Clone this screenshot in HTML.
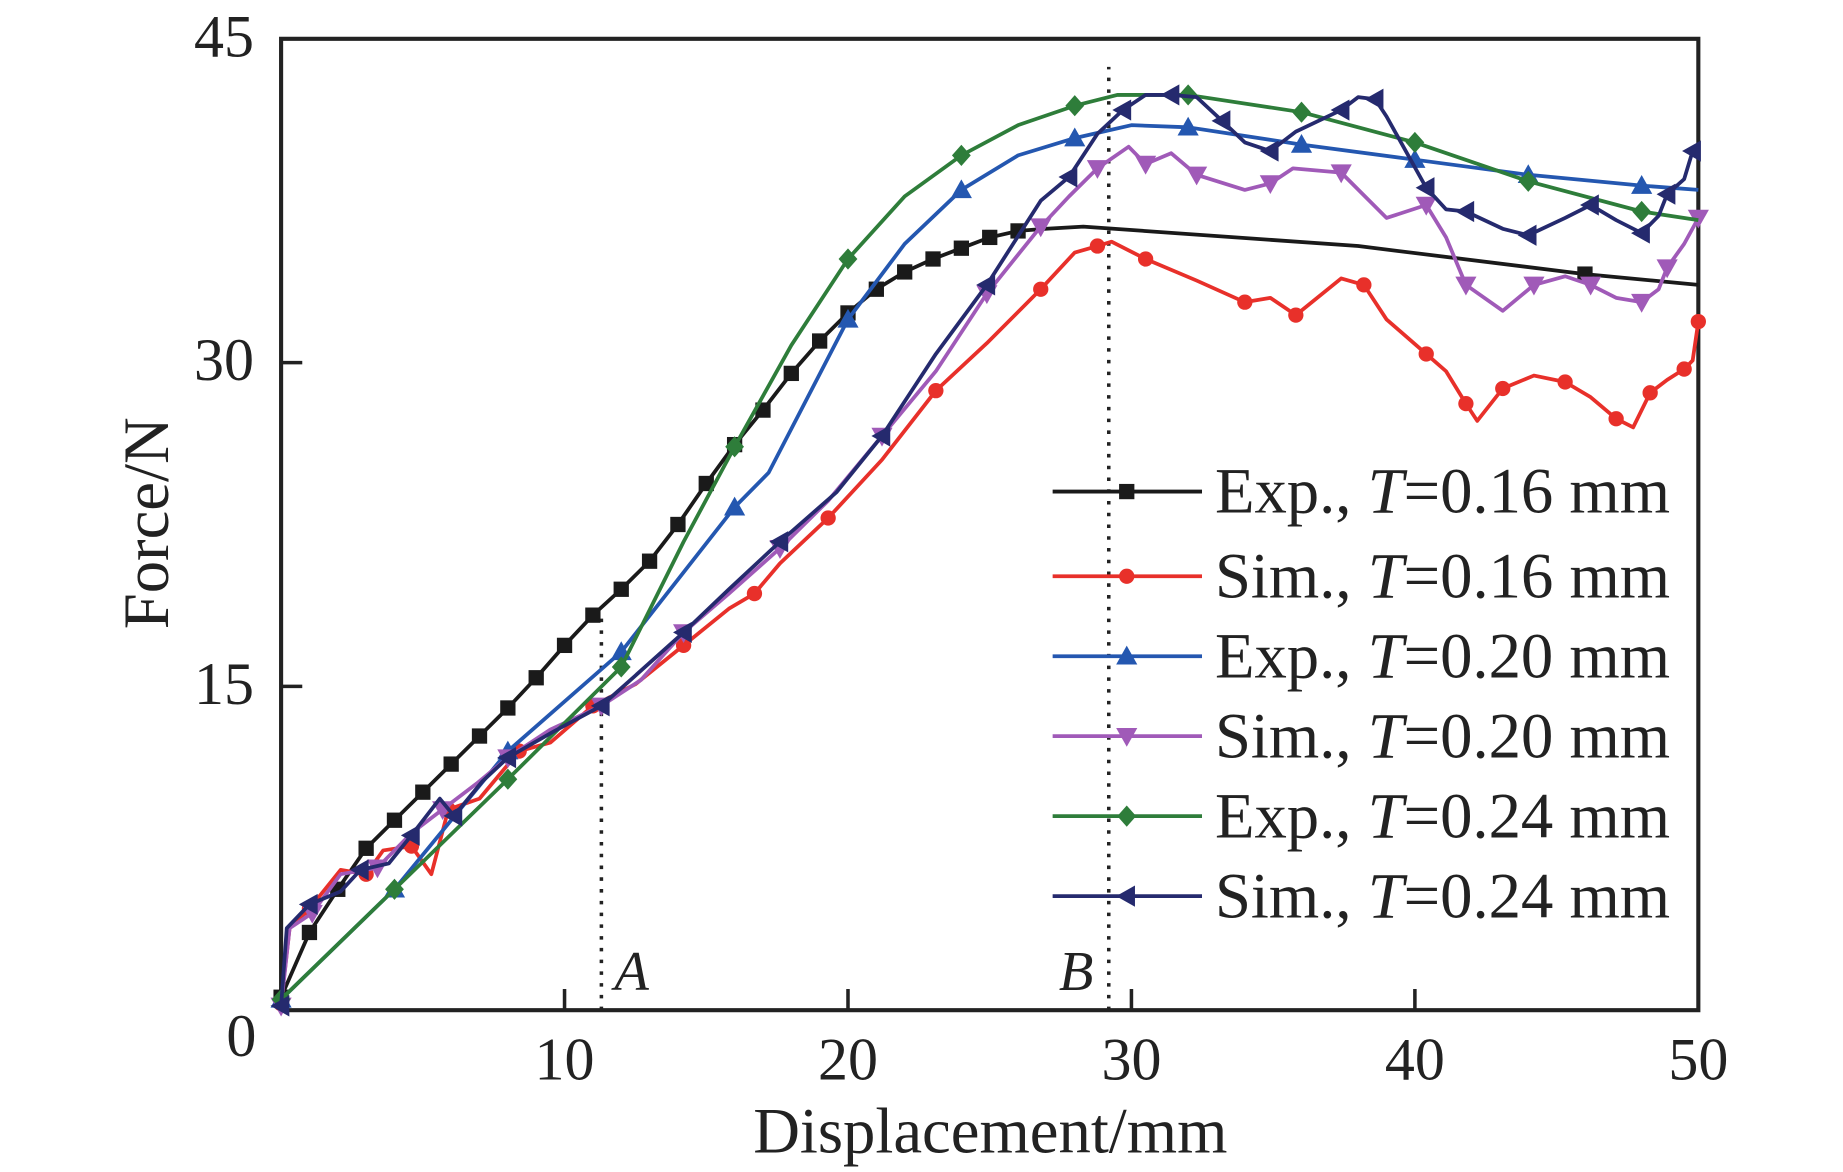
<!DOCTYPE html>
<html><head><meta charset="utf-8"><style>
html,body{margin:0;padding:0;background:#fff;}
svg{display:block;font-family:"Liberation Serif",serif;}
</style></head><body>
<svg id="chart" width="1843" height="1172" viewBox="0 0 1567 996.6" preserveAspectRatio="none" xmlns="http://www.w3.org/2000/svg">
<g id="plot"></g>
</svg>
<script>
const xTicks=[0,10,20,30,40,50];
const yTicks=[0,15,30,45];
const exp16X=[0,1,2,3,4,5,6,7,8,9,10,11,12,13,14,15,16,17,18,19,20,21,22,23,24,25,26,27,28.3,38,46,50];
const exp16Y=[0.6,3.6,5.6,7.5,8.8,10.1,11.4,12.7,14.0,15.4,16.9,18.3,19.5,20.8,22.5,24.4,26.2,27.8,29.5,31.0,32.3,33.4,34.2,34.8,35.3,35.8,36.1,36.2,36.3,35.4,34.1,33.6];
const sim16X=[0,0.3,1,2.1,3,3.6,4.6,5.3,5.9,7,8.4,9.5,11,12.5,14.2,15.8,16.7,17.6,19.3,21.2,23.1,24.9,26.8,28,28.8,29.3,30.5,32.3,34,34.9,35.8,37.4,38.2,39,40.4,41.1,41.8,42.2,43.1,44.2,45.3,46.2,47.1,47.7,48.3,48.9,49.5,49.8,50];
const sim16Y=[0.3,3.8,4.7,6.5,6.3,7.4,7.6,6.3,9.3,9.8,12,12.4,14.1,15.1,16.9,18.6,19.3,20.7,22.8,25.5,28.7,30.9,33.4,35.1,35.4,35.6,34.8,33.8,32.8,33,32.2,33.9,33.6,32,30.4,29.6,28.1,27.3,28.8,29.4,29.1,28.4,27.4,27,28.6,29.2,29.7,30.1,31.9];
const exp20X=[0,4,8,12,16,17.2,20,22,24,26,28,30,32,36,40,44,48,50];
const exp20Y=[0.5,5.6,12,16.6,23.3,24.9,32,35.5,38,39.6,40.4,41,40.9,40.1,39.4,38.7,38.2,38];
const sim20X=[0,0.3,1.1,2.1,3.4,4.6,5.7,6.9,8,9.5,11.3,12.7,14.2,15.8,17.6,19.3,21.2,23.1,24.9,26,26.8,27.8,28.8,29.9,30.5,31.4,32.3,34,34.9,35.7,37.4,39,40.4,41.1,41.8,43.1,44.2,45.3,46.2,47.1,48,48.6,48.9,49.5,50];
const sim20Y=[0.2,3.8,4.5,6.3,6.6,8.2,9.3,10.5,11.7,13,14.1,15.3,17.5,19.3,21.4,23.6,26.6,29.6,33.2,35,36.3,37.7,39,40,39.2,39.7,38.7,38,38.3,39,38.8,36.7,37.3,35.8,33.6,32.4,33.6,34,33.6,33,32.8,33.4,34.4,35.5,36.7];
const exp24X=[0,4,8,12,14.2,16,18,20,22,24,26,28,29.5,32,36,40,44,48,50];
const exp24Y=[0.5,5.6,10.7,15.9,21.7,26.1,30.8,34.8,37.7,39.6,41,41.9,42.4,42.4,41.6,40.2,38.4,37,36.6];
const sim24X=[0,0.2,1,2.1,2.8,3.8,4.6,5.6,6.1,7.1,8,9.6,11.3,12.5,14.2,15.8,17.6,19.6,21.2,23.1,24.9,26.8,27.8,28.8,29.7,30.5,31.4,32.3,33.2,34,34.9,35.8,37.4,38,38.6,39,40.4,41.1,41.8,43.1,44,45.3,46.2,47.1,48,48.6,48.9,49.5,49.8];
const sim24Y=[0.2,3.8,4.9,5.5,6.5,6.8,8.1,9.8,9,10.6,11.7,12.9,14.1,15.5,17.5,19.5,21.7,24,26.6,30.4,33.6,37.5,38.6,40.6,41.7,42.4,42.4,42.3,41.2,40.2,39.8,40.7,41.7,42.3,42.2,41.4,38.1,37.1,37,36.2,35.9,36.7,37.3,36.6,36,36.8,37.8,38.5,39.8];
const exp16Marks=[0,1,2,3,4,5,6,7,8,9,10,11,12,13,14,15,16,17,18,19,20,21,22,23,24,25,26,46];
const exp20Marks=[0,4,8,12,16,20,24,28,32,36,40,44,48];
const exp24Marks=[0,4,8,12,16,20,24,28,32,36,40,44,48];
const seriesNames=["Exp., ","Sim., ","Exp., ","Sim., ","Exp., ","Sim., "];
const seriesT=["=0.16 mm","=0.16 mm","=0.20 mm","=0.20 mm","=0.24 mm","=0.24 mm"];

const X0=239,X1=1444,Y0=859,Y1=33;
const sx=v=>X0+(v-0)/(50-0)*(X1-X0);
const sy=v=>Y0-(v-0)/(45-0)*(Y0-Y1);
const NS="http://www.w3.org/2000/svg";
const g=document.getElementById('plot');
function mk(tag,attrs,parent){const e=document.createElementNS(NS,tag);for(const k in attrs)e.setAttribute(k,attrs[k]);(parent||g).appendChild(e);return e;}

let fr=mk('rect',{x:X0,y:Y1,width:X1-X0,height:Y0-Y1,fill:'none',stroke:'#222','stroke-width':3.5});



xTicks.forEach(t=>{
  if(t>0&&t<50){let l=mk('line',{x1:sx(t),x2:sx(t),y1:Y0,y2:Y0-18,stroke:'#222','stroke-width':3});
  
  }
  if(t===0)return;
  let tx=mk('text',{x:sx(t),y:918,'font-size':51,'text-anchor':'middle',fill:'#222'});tx.textContent=t;
  
  
});
yTicks.forEach(t=>{
  if(t>0&&t<45){let l=mk('line',{x1:X0,x2:X0+18,y1:sy(t),y2:sy(t),stroke:'#222','stroke-width':3});
  
  }
  let tx=mk('text',{x:t===0?218:216,y:t===0?898:sy(t)+15,'font-size':51,'text-anchor':'end',fill:'#222'});tx.textContent=t;
  
  
});
let xt=mk('text',{x:842,y:980,'font-size':55,'text-anchor':'middle',fill:'#222'});xt.textContent='Displacement/mm';


let yt=mk('text',{x:0,y:0,'font-size':55,'text-anchor':'middle',fill:'#222',transform:'translate(143,445) rotate(-90)'});yt.textContent='Force/N';



[[11.3,18.3,'A',537,'ref-line-a'],[29.2,43.7,'B',915,'ref-line-b']].forEach(r=>{
  let l=mk('line',{x1:sx(r[0]),x2:sx(r[0]),y1:Y0,y2:sy(r[1]),stroke:'#222','stroke-width':3,'stroke-dasharray':'3 7'});
  
  
  let t=mk('text',{x:r[3],y:842,'font-size':48,'font-style':'italic','text-anchor':'middle',fill:'#222'});t.textContent=r[2];
  
  
});

function marker(type,x,y,c,parent){
  const s=6.5;let e;
  if(type==='square')e=mk('rect',{x:x-s,y:y-s,width:2*s,height:2*s,fill:c},parent);
  else if(type==='circle')e=mk('circle',{cx:x,cy:y,r:s,fill:c},parent);
  else if(type==='up')e=mk('polygon',{points:`${x},${y-9} ${x-9},${y+7} ${x+9},${y+7}`,fill:c},parent);
  else if(type==='down')e=mk('polygon',{points:`${x},${y+9} ${x-9},${y-7} ${x+9},${y-7}`,fill:c},parent);
  else if(type==='diamond')e=mk('polygon',{points:`${x},${y-9} ${x+8},${y} ${x},${y+9} ${x-8},${y}`,fill:c},parent);
  else e=mk('polygon',{points:`${x-9},${y} ${x+7},${y-9} ${x+7},${y+9}`,fill:c},parent);
  
  
}
const series=[
 [exp16X,exp16Y,'#1a1a1a','square',exp16Marks,'exp-016-series'],
 [sim16X,sim16Y,'#e8302a','circle',2,'sim-016-series'],
 [exp20X,exp20Y,'#2457b0','up',exp20Marks,'exp-020-series'],
 [sim20X,sim20Y,'#a05ab8','down',2,'sim-020-series'],
 [exp24X,exp24Y,'#2e7d3a','diamond',exp24Marks,'exp-024-series'],
 [sim24X,sim24Y,'#252a6e','left',2,'sim-024-series']
];
series.forEach(s=>{
  const grp=mk('g',{});
  
  
  const pts=s[0].map((x,i)=>sx(x)+','+sy(s[1][i])).join(' ');
  let pl=mk('polyline',{points:pts,fill:'none',stroke:s[2],'stroke-width':3.2,'stroke-linejoin':'round'},grp);
  
  
  s[0].forEach((x,i)=>{
    const show=Array.isArray(s[4])?s[4].includes(x):(i%s[4]===0);
    if(show)marker(s[3],sx(x),sy(s[1][i]),s[2],grp);
  });
});

const legY=[418,490,558,626,694,762];
series.forEach((s,i)=>{
  const lg=mk('g',{});
  
  
  let l=mk('line',{x1:895,x2:1022,y1:legY[i],y2:legY[i],stroke:s[2],'stroke-width':3.2},lg);
  
  
  marker(s[3],958,legY[i],s[2],lg);
  let t=mk('text',{x:1033,y:legY[i]+18,'font-size':55,fill:'#222'},lg);
  
  
  t.appendChild(document.createTextNode(seriesNames[i]));
  let it=document.createElementNS(NS,'tspan');it.setAttribute('font-style','italic');it.textContent='T';t.appendChild(it);
  t.appendChild(document.createTextNode(seriesT[i]));
});
</script>
</body></html>
